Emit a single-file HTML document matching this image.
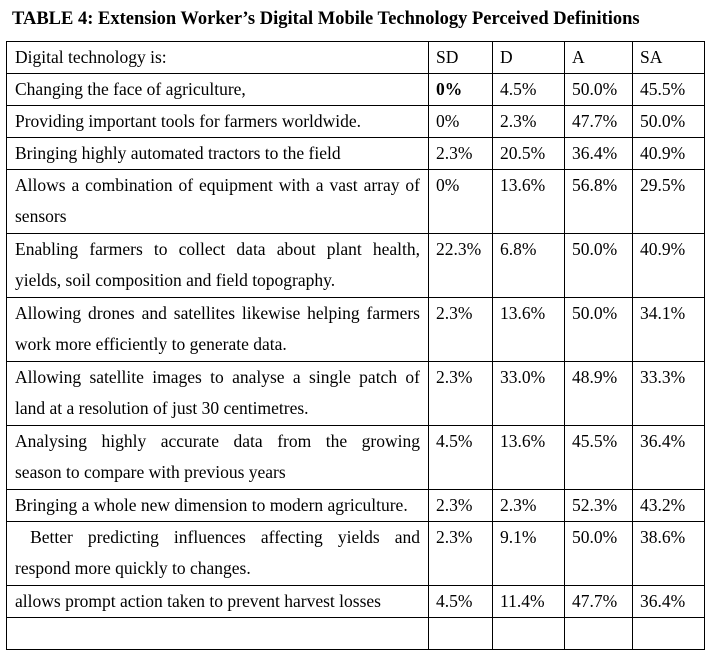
<!DOCTYPE html>
<html><head><meta charset="utf-8"><style>
body{margin:0;width:709px;height:622px;background:#fff;position:relative;overflow:hidden;font-family:"Liberation Serif",serif;color:#000}
h1{position:absolute;left:12px;top:8px;margin:0;font-size:18.5px;font-weight:bold;white-space:nowrap;line-height:22px}
table{position:absolute;left:6px;top:41px;border-collapse:collapse;font-size:17.5px;table-layout:fixed;width:698px}
td{border:1.3px solid #000;vertical-align:top;padding:0 0 0 7px;line-height:31px;white-space:nowrap;overflow:hidden}
td.q{padding:0 8px 0 8px}
tr.d td{padding-bottom:1px}
.j{display:block;text-align:justify;text-align-last:justify;white-space:normal}
</style></head><body>
<h1>TABLE 4: Extension Worker’s Digital Mobile Technology Perceived Definitions</h1>
<table>
<colgroup><col style="width:422px"><col style="width:64px"><col style="width:72px"><col style="width:68px"><col style="width:72px"></colgroup>
<tr class="s"><td class="q">Digital technology is:</td><td>SD</td><td>D</td><td>A</td><td>SA</td></tr>
<tr class="s"><td class="q">Changing the face of agriculture,</td><td><b>0%</b></td><td>4.5%</td><td>50.0%</td><td>45.5%</td></tr>
<tr class="s"><td class="q">Providing important tools for farmers worldwide.</td><td>0%</td><td>2.3%</td><td>47.7%</td><td>50.0%</td></tr>
<tr class="s"><td class="q">Bringing highly automated tractors to the field</td><td>2.3%</td><td>20.5%</td><td>36.4%</td><td>40.9%</td></tr>
<tr class="d"><td class="q"><span class="j">Allows a combination of equipment with a vast array of</span>sensors</td><td>0%</td><td>13.6%</td><td>56.8%</td><td>29.5%</td></tr>
<tr class="d"><td class="q"><span class="j">Enabling farmers to collect data about plant health,</span>yields, soil composition and field topography.</td><td>22.3%</td><td>6.8%</td><td>50.0%</td><td>40.9%</td></tr>
<tr class="d"><td class="q"><span class="j">Allowing drones and satellites likewise helping farmers</span>work more efficiently to generate data.</td><td>2.3%</td><td>13.6%</td><td>50.0%</td><td>34.1%</td></tr>
<tr class="d"><td class="q"><span class="j">Allowing satellite images to analyse a single patch of</span>land at a resolution of just 30 centimetres.</td><td>2.3%</td><td>33.0%</td><td>48.9%</td><td>33.3%</td></tr>
<tr class="d"><td class="q"><span class="j">Analysing highly accurate data from the growing</span>season to compare with previous years</td><td>4.5%</td><td>13.6%</td><td>45.5%</td><td>36.4%</td></tr>
<tr class="s"><td class="q">Bringing a whole new dimension to modern agriculture.</td><td>2.3%</td><td>2.3%</td><td>52.3%</td><td>43.2%</td></tr>
<tr class="d"><td class="q"><span class="j">&nbsp;Better predicting influences affecting yields and</span>respond more quickly to changes.</td><td>2.3%</td><td>9.1%</td><td>50.0%</td><td>38.6%</td></tr>
<tr class="s"><td class="q">allows prompt action taken to prevent harvest losses</td><td>4.5%</td><td>11.4%</td><td>47.7%</td><td>36.4%</td></tr>
<tr class="s"><td class="q">&nbsp;</td><td></td><td></td><td></td><td></td></tr>
</table>
</body></html>
